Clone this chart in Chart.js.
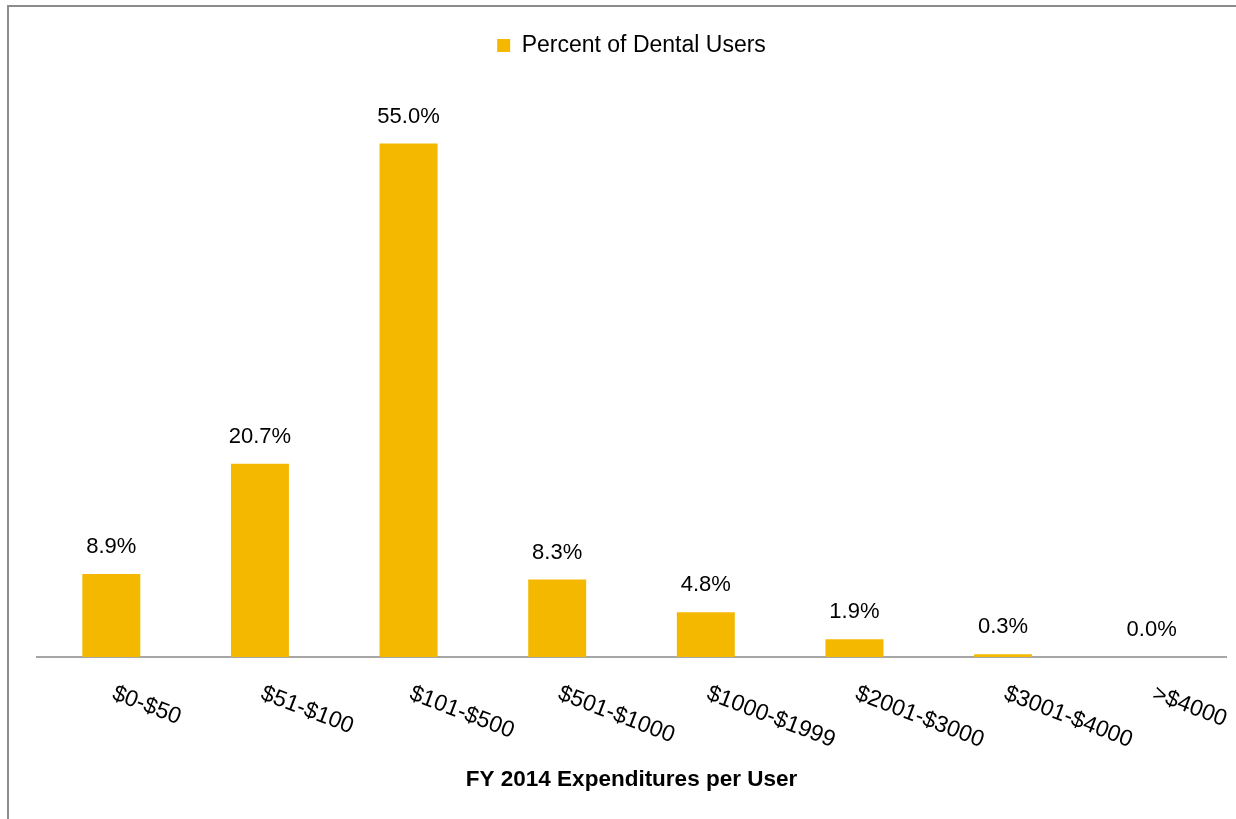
<!DOCTYPE html>
<html>
<head>
<meta charset="utf-8">
<script src="https://cdn.jsdelivr.net/npm/chart.js@4.4.1/dist/chart.umd.min.js"></script>
<style>
  html, body { margin: 0; padding: 0; background: #fff; }
  #wrap { position: relative; width: 1236px; height: 819px; }
  #frame { position: absolute; left: 7px; top: 5px; right: 0; bottom: 0;
           border-top: 2px solid #8c8c8c; border-left: 2px solid #8c8c8c; pointer-events: none; }
</style>
</head>
<body>
<div id="wrap">
  <canvas id="spend-chart" width="1236" height="819"></canvas>
  <div id="frame"></div>
</div>
<script>
const ranges = ["$0-$50", "$51-$100", "$101-$500", "$501-$1000", "$1000-$1999", "$2001-$3000", "$3001-$4000", ">$4000"];
const percentUsers = [8.9, 20.7, 55.0, 8.3, 4.8, 1.9, 0.3, 0.0];

const gold = "#F5B800";
const fontFamily = "'Liberation Sans', Arial, sans-serif";

// percent labels above each bar
const valueLabels = {
  id: 'valueLabels',
  afterDatasetsDraw(chart) {
    const ctx = chart.ctx;
    const meta = chart.getDatasetMeta(0);
    ctx.save();
    ctx.font = "22px " + fontFamily;
    ctx.fillStyle = "#000";
    ctx.textAlign = "center";
    ctx.textBaseline = "middle";
    meta.data.forEach((bar, i) => {
      ctx.fillText(percentUsers[i].toFixed(1) + "%", bar.x, bar.y - 27);
    });
    ctx.restore();
  }
};

// category labels slanted downward to the right
const slantedTicks = {
  id: 'slantedTicks',
  afterDraw(chart) {
    const ctx = chart.ctx;
    const xs = chart.scales.x;
    ctx.save();
    ctx.font = "23px " + fontFamily;
    ctx.fillStyle = "#000";
    ctx.textAlign = "left";
    ctx.textBaseline = "top";
    ranges.forEach((lbl, i) => {
      const x = xs.getPixelForValue(i) + 6;
      ctx.save();
      ctx.translate(x, xs.top + 25);
      ctx.rotate(21 * Math.PI / 180);
      ctx.fillText(lbl, 0, 0);
      ctx.restore();
    });
    ctx.restore();
  }
};

new Chart(document.getElementById("spend-chart"), {
  type: 'bar',
  data: {
    labels: ranges,
    datasets: [
      {
        label: "Percent of Dental Users",
        backgroundColor: gold,
        borderWidth: 0,
        data: percentUsers,
        categoryPercentage: 1.0,
        barPercentage: 0.39
      }
    ]
  },
  options: {
    responsive: false,
    animation: false,
    layout: {
      padding: { top: 24, left: 37, right: 10, bottom: 10 }
    },
    plugins: {
      legend: {
        position: 'top',
        labels: {
          boxWidth: 13,
          boxHeight: 13,
          padding: 10,
          color: "#000",
          font: { family: fontFamily, size: 23 }
        }
      },
      tooltip: { enabled: false }
    },
    scales: {
      x: {
        grid: { display: false },
        border: { display: true, color: "#A6A6A6", width: 2 },
        ticks: { display: false },
        title: {
          display: true,
          text: "FY 2014 Expenditures per User",
          color: "#000",
          font: { family: fontFamily, size: 22.5, weight: 'bold' },
          padding: { top: 101, bottom: 16 }
        }
      },
      y: {
        display: false,
        min: 0,
        max: 63.2
      }
    }
  },
  plugins: [valueLabels, slantedTicks]
});
</script>
</body>
</html>
